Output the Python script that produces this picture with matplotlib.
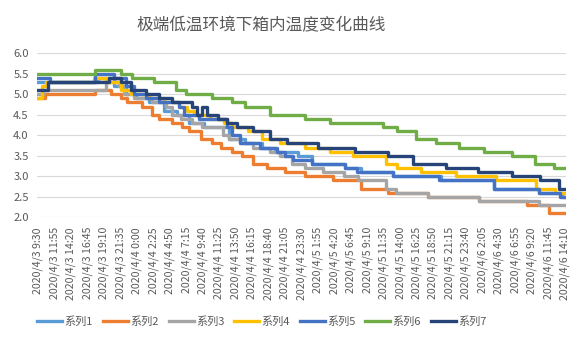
import matplotlib.pyplot as plt
import numpy as np

plt.rcParams['font.family'] = ['Noto Sans CJK SC', 'DejaVu Sans']

title = "极端低温环境下箱内温度变化曲线"
series_names = ["系列1", "系列2", "系列3", "系列4", "系列5", "系列6", "系列7"]
colors = ["#5B9BD5", "#ED7D31", "#A5A5A5", "#FFC000", "#4472C4", "#70AD47", "#264478"]

# x tick labels (one every 29 readings, 5 min apart)
tick_labels = [
    "2020/4/3 9:30", "2020/4/3 11:55", "2020/4/3 14:20", "2020/4/3 16:45",
    "2020/4/3 19:10", "2020/4/3 21:35", "2020/4/4 0:00", "2020/4/4 2:25",
    "2020/4/4 4:50", "2020/4/4 7:15", "2020/4/4 9:40", "2020/4/4 11:25",
    "2020/4/4 13:50", "2020/4/4 16:15", "2020/4/4 18:40", "2020/4/4 21:05",
    "2020/4/4 23:30", "2020/4/5 1:55", "2020/4/5 4:20", "2020/4/5 6:45",
    "2020/4/5 9:10", "2020/4/5 11:35", "2020/4/5 14:00", "2020/4/5 16:25",
    "2020/4/5 18:50", "2020/4/5 21:15", "2020/4/5 23:40", "2020/4/6 2:05",
    "2020/4/6 4:30", "2020/4/6 6:55", "2020/4/6 9:20", "2020/4/6 11:45",
    "2020/4/6 14:10",
]
n_points = 929

# each series: reading index where the value changes, and the new value
s1_idx = [0, 106, 133, 154, 172, 195, 222, 245, 266, 293, 337, 364, 394, 417, 458, 483, 541, 568, 626, 710, 804, 882, 923]
s1_val = [5.3, 5.4, 5.2, 5.0, 4.9, 4.8, 4.6, 4.5, 4.3, 4.2, 3.9, 3.8, 3.7, 3.6, 3.5, 3.3, 3.2, 3.1, 3.0, 2.9, 2.7, 2.6, 2.5]

s2_idx = [0, 12, 101, 128, 146, 156, 183, 200, 213, 236, 254, 266, 287, 307, 323, 342, 360, 378, 403, 435, 470, 520, 568, 616, 687, 777, 861, 900]
s2_val = [4.9, 5.0, 5.1, 5.0, 4.9, 4.8, 4.7, 4.5, 4.4, 4.3, 4.2, 4.1, 3.9, 3.8, 3.7, 3.6, 3.5, 3.3, 3.2, 3.1, 3.0, 2.9, 2.7, 2.6, 2.5, 2.4, 2.3, 2.1]

s3_idx = [0, 9, 119, 142, 151, 169, 200, 225, 236, 252, 271, 289, 325, 337, 355, 378, 408, 426, 447, 470, 502, 538, 564, 612, 630, 687, 777, 882]
s3_val = [5.0, 5.1, 5.3, 5.2, 5.0, 4.9, 4.8, 4.7, 4.5, 4.4, 4.3, 4.2, 4.0, 3.9, 3.8, 3.7, 3.6, 3.5, 3.3, 3.2, 3.1, 3.0, 2.9, 2.7, 2.6, 2.5, 2.4, 2.3]

s4_idx = [0, 7, 14, 98, 119, 146, 163, 195, 222, 248, 263, 275, 302, 328, 342, 369, 394, 426, 470, 515, 555, 612, 633, 674, 736, 807, 878, 910]
s4_val = [4.9, 5.2, 5.3, 5.4, 5.3, 5.1, 5.0, 4.9, 4.8, 4.7, 4.6, 4.5, 4.4, 4.3, 4.2, 4.1, 3.9, 3.8, 3.7, 3.6, 3.5, 3.3, 3.2, 3.1, 3.0, 2.9, 2.7, 2.6]

s5_idx = [0, 21, 101, 133, 154, 169, 190, 213, 248, 257, 284, 332, 342, 355, 390, 421, 435, 449, 483, 541, 562, 626, 706, 804, 882, 919]
s5_val = [5.4, 5.3, 5.5, 5.4, 5.2, 5.0, 4.9, 4.8, 4.7, 4.5, 4.4, 4.2, 4.0, 3.8, 3.7, 3.6, 3.5, 3.4, 3.3, 3.2, 3.1, 3.0, 2.9, 2.7, 2.6, 2.5]

s6_idx = [0, 101, 146, 165, 204, 243, 261, 307, 342, 364, 408, 470, 515, 607, 633, 665, 701, 742, 786, 834, 875, 908]
s6_val = [5.5, 5.6, 5.5, 5.4, 5.3, 5.1, 5.0, 4.9, 4.8, 4.7, 4.5, 4.4, 4.3, 4.2, 4.1, 3.9, 3.8, 3.7, 3.6, 3.5, 3.3, 3.2]

s7_idx = [0, 18, 124, 146, 163, 190, 213, 236, 271, 280, 289, 298, 316, 332, 350, 378, 408, 438, 493, 559, 617, 660, 719, 775, 834, 884, 917]
s7_val = [5.1, 5.3, 5.4, 5.3, 5.1, 5.0, 4.9, 4.8, 4.7, 4.5, 4.7, 4.5, 4.4, 4.3, 4.2, 4.1, 3.9, 3.8, 3.7, 3.6, 3.5, 3.3, 3.2, 3.1, 3.0, 2.9, 2.7]

all_idx = [s1_idx, s2_idx, s3_idx, s4_idx, s5_idx, s6_idx, s7_idx]
all_val = [s1_val, s2_val, s3_val, s4_val, s5_val, s6_val, s7_val]

fig = plt.figure(figsize=(5.81, 3.47), dpi=100)
ax = fig.add_axes([0.0637, 0.3738, 0.9105, 0.4726])

for idx, val, name, c in zip(all_idx, all_val, series_names, colors):
    x = idx + [n_points - 1]
    y = val + [val[-1]]
    ax.plot(x, y, drawstyle='steps-post', color=c, lw=2.4, label=name)

ax.set_ylim(2.0, 6.0)
ax.set_xlim(-2, n_points + 1)
ax.set_yticks(np.arange(2.0, 6.01, 0.5))
ax.set_yticklabels([f"{v:.1f}" for v in np.arange(2.0, 6.01, 0.5)])
ax.set_xticks(np.arange(len(tick_labels)) * 29)
ax.set_xticklabels(tick_labels, rotation=90, va='top', ha='center')
ax.tick_params(axis='x', length=0, pad=7, labelsize=7.6, colors='#595959')
ax.tick_params(axis='y', length=0, pad=6, labelsize=8, colors='#595959')
ax.grid(axis='y', color='#D9D9D9', lw=0.8)
ax.set_axisbelow(True)
for s in ax.spines.values():
    s.set_visible(False)

fig.text(261 / 581, 1 - 26 / 347, title, ha='center', va='center',
         fontsize=12, color='#595959')

fig.legend(loc='center', bbox_to_anchor=(262 / 581, 1 - 322 / 347), ncol=7,
           frameon=False, fontsize=8, handlelength=2.25, handletextpad=0.2,
           columnspacing=0.9, labelcolor='#595959')

fig.savefig('out.png', dpi=100)
